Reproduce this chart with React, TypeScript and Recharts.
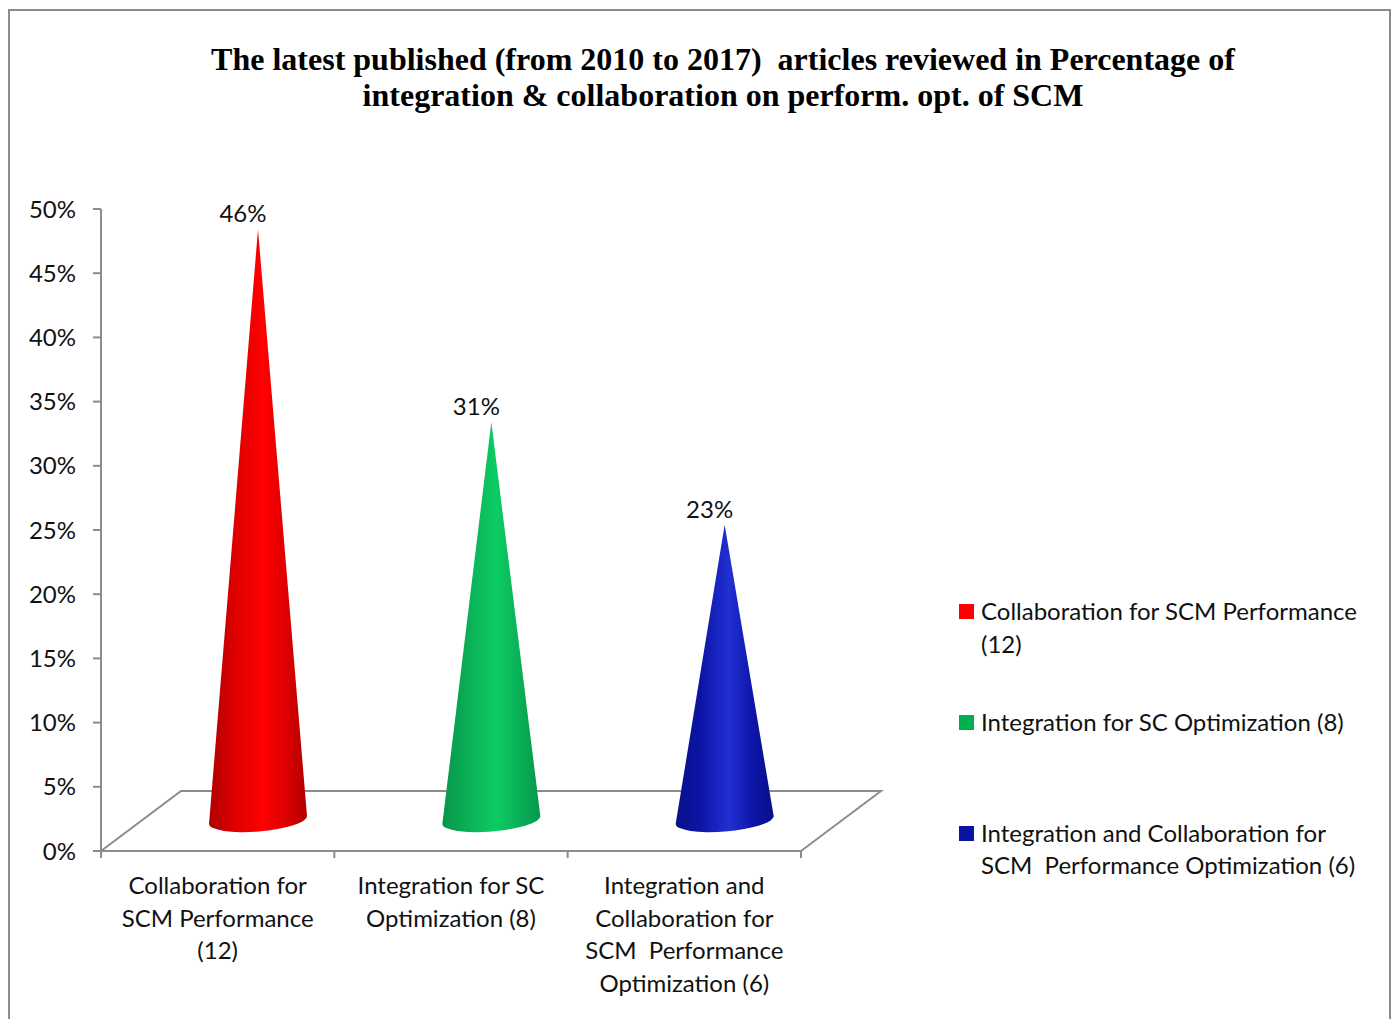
import { BarChart, Bar, XAxis, YAxis, Legend, LabelList, Customized } from "recharts";

const categories = [
  "Collaboration for SCM Performance (12)",
  "Integration for SC Optimization (8)",
  "Integration and Collaboration for SCM  Performance Optimization (6)",
];
const percentages = [46, 31, 23];
const percentTicks = [0, 5, 10, 15, 20, 25, 30, 35, 40, 45, 50];
const categoryLines = [
  ["Collaboration for", "SCM Performance", "(12)"],
  ["Integration for SC", "Optimization (8)"],
  ["Integration and", "Collaboration for", "SCM\u00a0 Performance", "Optimization (6)"],
];
const legendLines = [
  ["Collaboration for SCM Performance", "(12)"],
  ["Integration for SC Optimization (8)"],
  ["Integration and Collaboration for", "SCM\u00a0 Performance Optimization (6)"],
];
const titleLines = [
  "The latest published (from 2010 to 2017)  articles reviewed in Percentage of",
  "integration & collaboration on perform. opt. of SCM",
];

// edge, shoulder and highlight colours of each cone
const coneShades = [
  ["#ae0000", "#dc0000", "#ff0000"],
  ["#08964a", "#0aae57", "#0ccc64"],
  ["#0a0f88", "#0c14a6", "#2130d2"],
];
const legendSwatches = ["#ff0000", "#00b050", "#0a14a0"];

const data = categories.map((name, i) => ({ name, value: percentages[i] }));

const WIDTH = 1394;
const HEIGHT = 1019;
const PLOT = { left: 101, top: 209, right: 801, bottom: 851 };
const BAND = (PLOT.right - PLOT.left) / categories.length;
// fake 3D: the floor and the cones sit behind the axis plane
const DEPTH_X = 80;
const DEPTH_Y = 60;
const CONE_DX = 40;
const CONE_DY = 31;
const AXIS_GREY = "#8c8c8c";
const FONT = "Lato, 'Noto Sans', sans-serif";
const TEXT_SIZE = 24;

function Cone(props: any) {
  const { x, y, width, height, index } = props;
  const cx = x + width / 2 + CONE_DX;
  const top = y - CONE_DY;
  const base = y + height - CONE_DY;
  const r = width / 2;
  const path = `M${cx},${top} L${cx - r},${base + 4} A${r} 11.5 -4.7 0 0 ${cx + r},${base - 4} Z`;
  return <path d={path} fill={`url(#cone-${index})`} />;
}

function Floor() {
  const { left, right, bottom } = PLOT;
  return (
    <polyline
      points={`${left},${bottom} ${left + DEPTH_X},${bottom - DEPTH_Y} ${right + DEPTH_X},${bottom - DEPTH_Y} ${right},${bottom}`}
      fill="none"
      stroke={AXIS_GREY}
      strokeWidth={2}
    />
  );
}

function CategoryTick(props: any) {
  const { x, y, index } = props;
  const lines = categoryLines[index] || [];
  const last = index === categories.length - 1;
  return (
    <g>
      <line x1={x - BAND / 2} x2={x - BAND / 2} y1={PLOT.bottom} y2={PLOT.bottom + 7} stroke={AXIS_GREY} strokeWidth={2} />
      {last && (
        <line x1={x + BAND / 2} x2={x + BAND / 2} y1={PLOT.bottom} y2={PLOT.bottom + 7} stroke={AXIS_GREY} strokeWidth={2} />
      )}
      <text x={x} y={y} textAnchor="middle" fontFamily={FONT} fontSize={TEXT_SIZE} fill="#111">
        {lines.map((line, i) => (
          <tspan key={i} x={x} y={PLOT.bottom + 43 + i * 32.6}>
            {line}
          </tspan>
        ))}
      </text>
    </g>
  );
}

function ValueLabel(props: any) {
  const { x, y, width, value } = props;
  return (
    <text x={x + width / 2 + 25} y={y - 38} textAnchor="middle" fontFamily={FONT} fontSize={TEXT_SIZE} fill="#111">
      {value}%
    </text>
  );
}

function LegendBox() {
  // gaps between the entries are uneven on purpose
  const gaps = [0, 46, 78];
  return (
    <div style={{ fontFamily: FONT, fontSize: TEXT_SIZE, lineHeight: "32.6px", color: "#111" }}>
      {legendLines.map((lines, i) => (
        <div key={i} style={{ position: "relative", paddingLeft: 22, marginTop: gaps[i], whiteSpace: "nowrap" }}>
          <span
            style={{ position: "absolute", left: 0, top: 9, width: 15, height: 15, background: legendSwatches[i] }}
          />
          {lines.map((line, j) => (
            <div key={j}>{line}</div>
          ))}
        </div>
      ))}
    </div>
  );
}

export default function App() {
  return (
    <div style={{ position: "absolute", left: 0, top: 0, width: WIDTH, height: HEIGHT, background: "#fff", overflow: "hidden" }}>
      {/* outer frame, the bottom edge runs off the page */}
      <div
        style={{
          position: "absolute",
          left: 8,
          top: 9,
          width: 1383,
          height: 1010,
          border: `2px solid ${AXIS_GREY}`,
          borderBottom: "none",
          boxSizing: "border-box",
        }}
      />
      <BarChart
        width={WIDTH}
        height={HEIGHT}
        data={data}
        margin={{ left: PLOT.left - 60, top: PLOT.top, right: WIDTH - PLOT.right, bottom: HEIGHT - PLOT.bottom - 60 }}
        style={{ position: "absolute", left: 0, top: 0 }}
      >
        <defs>
          {coneShades.map(([edge, shoulder, bright], i) => (
            <linearGradient key={i} id={`cone-${i}`} x1="0" x2="1" y1="0" y2="0">
              <stop offset="0" stopColor={edge} />
              <stop offset="0.25" stopColor={shoulder} />
              <stop offset="0.55" stopColor={bright} />
              <stop offset="0.8" stopColor={shoulder} />
              <stop offset="1" stopColor={edge} />
            </linearGradient>
          ))}
        </defs>
        <text textAnchor="middle" fontFamily="'Liberation Serif', serif" fontWeight="bold" fontSize={32} fill="#000">
          {titleLines.map((line, i) => (
            <tspan key={i} x={723} y={70 + i * 36} xmlSpace="preserve">
              {line}
            </tspan>
          ))}
        </text>
        <Customized component={Floor} />
        <XAxis
          dataKey="name"
          interval={0}
          height={60}
          axisLine={{ stroke: AXIS_GREY, strokeWidth: 2 }}
          tickLine={false}
          tick={CategoryTick}
        />
        <YAxis
          width={60}
          domain={[0, 50]}
          ticks={percentTicks}
          interval={0}
          tickFormatter={(v: number) => `${v}%`}
          axisLine={{ stroke: AXIS_GREY, strokeWidth: 2 }}
          tickLine={{ stroke: AXIS_GREY, strokeWidth: 2 }}
          tickSize={8}
          tickMargin={17}
          tick={{ fontFamily: FONT, fontSize: TEXT_SIZE, fill: "#111" }}
        />
        <Bar dataKey="value" barSize={98} shape={Cone} isAnimationActive={false}>
          <LabelList dataKey="value" content={ValueLabel} />
        </Bar>
        <Legend
          layout="vertical"
          align="center"
          verticalAlign="middle"
          content={LegendBox}
          wrapperStyle={{ position: "absolute", left: 959, top: 595, width: 420, height: 290 }}
        />
      </BarChart>
    </div>
  );
}
